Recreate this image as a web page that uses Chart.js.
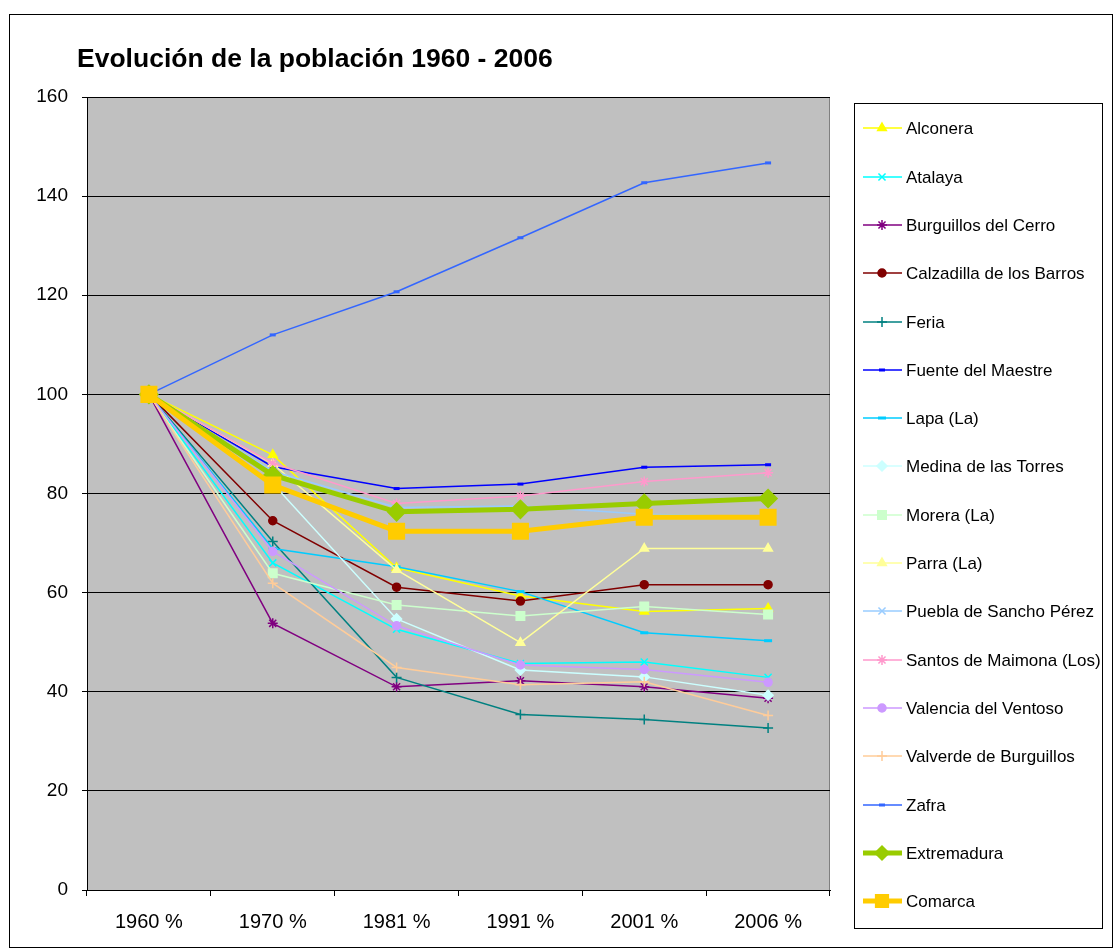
<!DOCTYPE html>
<html>
<head>
<meta charset="utf-8">
<title>Evolución de la población 1960 - 2006</title>
<script src="https://cdn.jsdelivr.net/npm/chart.js@4.4.1/dist/chart.umd.min.js"></script>
<style>
  html, body { margin: 0; padding: 0; background: #fff; }
  #wrap { width: 1115px; height: 949px; }
</style>
</head>
<body>
<div id="wrap"><canvas id="chart" width="1115" height="949"></canvas></div>
<script>
// categories and tick labels
const years = ['1960 %', '1970 %', '1981 %', '1991 %', '2001 %', '2006 %'];
const yTicks = [0, 20, 40, 60, 80, 100, 120, 140, 160];

// series values (index 1960 = 100)
const alconera    = [100, 87.8, 65.0, 59.3, 56.2, 56.8];
const atalaya     = [100, 66.0, 52.6, 45.7, 46.0, 42.9];
const burguillos  = [100, 53.8, 41.0, 42.2, 41.0, 38.7];
const calzadilla  = [100, 74.5, 61.1, 58.3, 61.6, 61.6];
const feria       = [100, 70.3, 42.9, 35.4, 34.4, 32.7];
const fuente      = [100, 85.4, 81.0, 81.9, 85.3, 85.8];
const lapa        = [100, 68.9, 65.2, 60.2, 51.9, 50.3];
const medina      = [100, 82.0, 54.7, 44.4, 43.0, 39.3];
const morera      = [100, 63.9, 57.5, 55.3, 57.2, 55.6];
const parra       = [100, 86.0, 64.6, 49.9, 68.9, 68.9];
const puebla      = [100, 84.5, 77.2, 77.5, 75.8, 75.3];
const santos      = [100, 86.1, 78.0, 79.5, 82.4, 84.2];
const valencia    = [100, 68.3, 53.3, 45.4, 44.5, 41.9];
const valverde    = [100, 61.9, 44.9, 41.4, 42.0, 35.2];
const zafra       = [100, 112.0, 120.7, 131.6, 142.7, 146.7];
const extremadura = [100, 83.7, 76.3, 76.8, 78.0, 79.0];
const comarca     = [100, 81.7, 72.4, 72.4, 75.2, 75.2];

const FONT = 'Arial, "Liberation Sans", sans-serif';
Chart.defaults.font.family = FONT;
Chart.defaults.color = '#000';

// helper: one line series in Excel style
function serie(label, data, color, style, radius, width, fill) {
  return {
    label, data,
    borderColor: color,
    backgroundColor: fill || color,
    borderWidth: width || 1.5,
    pointStyle: style,
    pointRadius: radius,
    pointHoverRadius: radius,
    pointBorderColor: color,
    pointBackgroundColor: fill || color,
    pointBorderWidth: (style === 'line') ? 3 : 1.5,
    tension: 0,
    fill: false
  };
}

const datasets = [
  serie('Alconera', alconera, '#FFFF00', 'triangle', 5),
  serie('Atalaya', atalaya, '#00FFFF', 'crossRot', 5),
  serie('Burguillos del Cerro', burguillos, '#800080', 'star', 5),
  serie('Calzadilla de los Barros', calzadilla, '#800000', 'circle', 4),
  serie('Feria', feria, '#008080', 'cross', 5),
  serie('Fuente del Maestre', fuente, '#0000FF', 'line', 3),
  serie('Lapa (La)', lapa, '#00CCFF', 'line', 4),
  serie('Medina de las Torres', medina, '#CCFFFF', 'rectRot', 5),
  serie('Morera (La)', morera, '#CCFFCC', 'rect', 6),
  serie('Parra (La)', parra, '#FFFF99', 'triangle', 5),
  serie('Puebla de Sancho Pérez', puebla, '#99CCFF', 'crossRot', 5),
  serie('Santos de Maimona (Los)', santos, '#FF99CC', 'star', 5),
  serie('Valencia del Ventoso', valencia, '#CC99FF', 'circle', 4),
  serie('Valverde de Burguillos', valverde, '#FFCC99', 'cross', 5),
  serie('Zafra', zafra, '#3366FF', 'line', 3),
  serie('Extremadura', extremadura, '#99CC00', 'rectRot', 9, 5),
  serie('Comarca', comarca, '#FFCC00', 'rect', 11, 5)
];
// later series drawn on top, like Excel
datasets.forEach((d, i) => { d.order = datasets.length - i; });

// draw a marker for the legend
function marker(ctx, d, x, y) {
  if (Chart.helpers && Chart.helpers.drawPoint) {
    ctx.save();
    ctx.strokeStyle = d.pointBorderColor;
    ctx.fillStyle = d.pointBackgroundColor;
    ctx.lineWidth = d.pointBorderWidth;
    const r = d.pointRadius > 8 ? d.pointRadius - 2 : d.pointRadius;
    Chart.helpers.drawPoint(ctx, {
      pointStyle: d.pointStyle, radius: r, rotation: 0, borderWidth: d.pointBorderWidth
    }, x, y);
    ctx.restore();
  }
}

const frame = {
  id: 'frame',
  beforeDraw(chart) {
    const ctx = chart.ctx, a = chart.chartArea;
    ctx.save();
    ctx.fillStyle = '#fff';
    ctx.fillRect(0, 0, chart.width, chart.height);
    ctx.fillStyle = '#C0C0C0';
    ctx.fillRect(a.left, a.top, a.right - a.left, a.bottom - a.top);
    ctx.strokeStyle = '#808080';
    ctx.lineWidth = 1;
    ctx.beginPath();
    ctx.moveTo(a.right - 0.5, a.top);
    ctx.lineTo(a.right - 0.5, a.bottom);
    ctx.stroke();
    ctx.restore();
  },
  afterDraw(chart) {
    const ctx = chart.ctx;
    ctx.save();
    // outer border
    ctx.strokeStyle = '#000';
    ctx.lineWidth = 1;
    ctx.strokeRect(9.5, 14.5, 1103, 933);
    // title
    ctx.fillStyle = '#000';
    ctx.font = 'bold 26.5px ' + FONT;
    ctx.textBaseline = 'middle';
    ctx.textAlign = 'left';
    ctx.fillText('Evolución de la población 1960 - 2006', 77, 60);
    // legend box
    ctx.fillStyle = '#fff';
    ctx.fillRect(854.5, 103.5, 248, 825);
    ctx.strokeRect(854.5, 103.5, 248, 825);
    ctx.font = '17px ' + FONT;
    chart.data.datasets.forEach((d, i) => {
      const y = Math.round(128.3 + i * 48.3);
      ctx.strokeStyle = d.borderColor;
      ctx.lineWidth = d.borderWidth;
      ctx.beginPath();
      ctx.moveTo(863, y);
      ctx.lineTo(902, y);
      ctx.stroke();
      marker(ctx, d, 882, y);
      ctx.fillStyle = '#000';
      ctx.fillText(d.label, 906, y + 1);
    });
    ctx.restore();
  }
};

new Chart(document.getElementById('chart'), {
  type: 'line',
  data: { labels: years, datasets },
  plugins: [frame],
  options: {
    responsive: false,
    animation: false,
    devicePixelRatio: 1,
    layout: { padding: { top: 97, left: 0, right: 285, bottom: 0 } },
    plugins: {
      legend: { display: false },
      title: { display: false },
      tooltip: { enabled: false }
    },
    scales: {
      x: {
        offset: true,
        grid: { offset: true, drawOnChartArea: false, drawTicks: true, tickLength: 6, color: '#000' },
        border: { color: '#000' },
        ticks: { font: { size: 20 }, color: '#000', padding: 14, maxRotation: 0 },
        afterFit(scale) { scale.height = 59; }
      },
      y: {
        min: 0, max: 160,
        afterBuildTicks(scale) { scale.ticks = yTicks.map(v => ({ value: v })); },
        grid: { color: '#000', tickLength: 5 },
        border: { color: '#000' },
        ticks: { font: { size: 19 }, color: '#000', padding: 14 },
        afterFit(scale) { scale.width = 87; }
      }
    }
  }
});
</script>
</body>
</html>
